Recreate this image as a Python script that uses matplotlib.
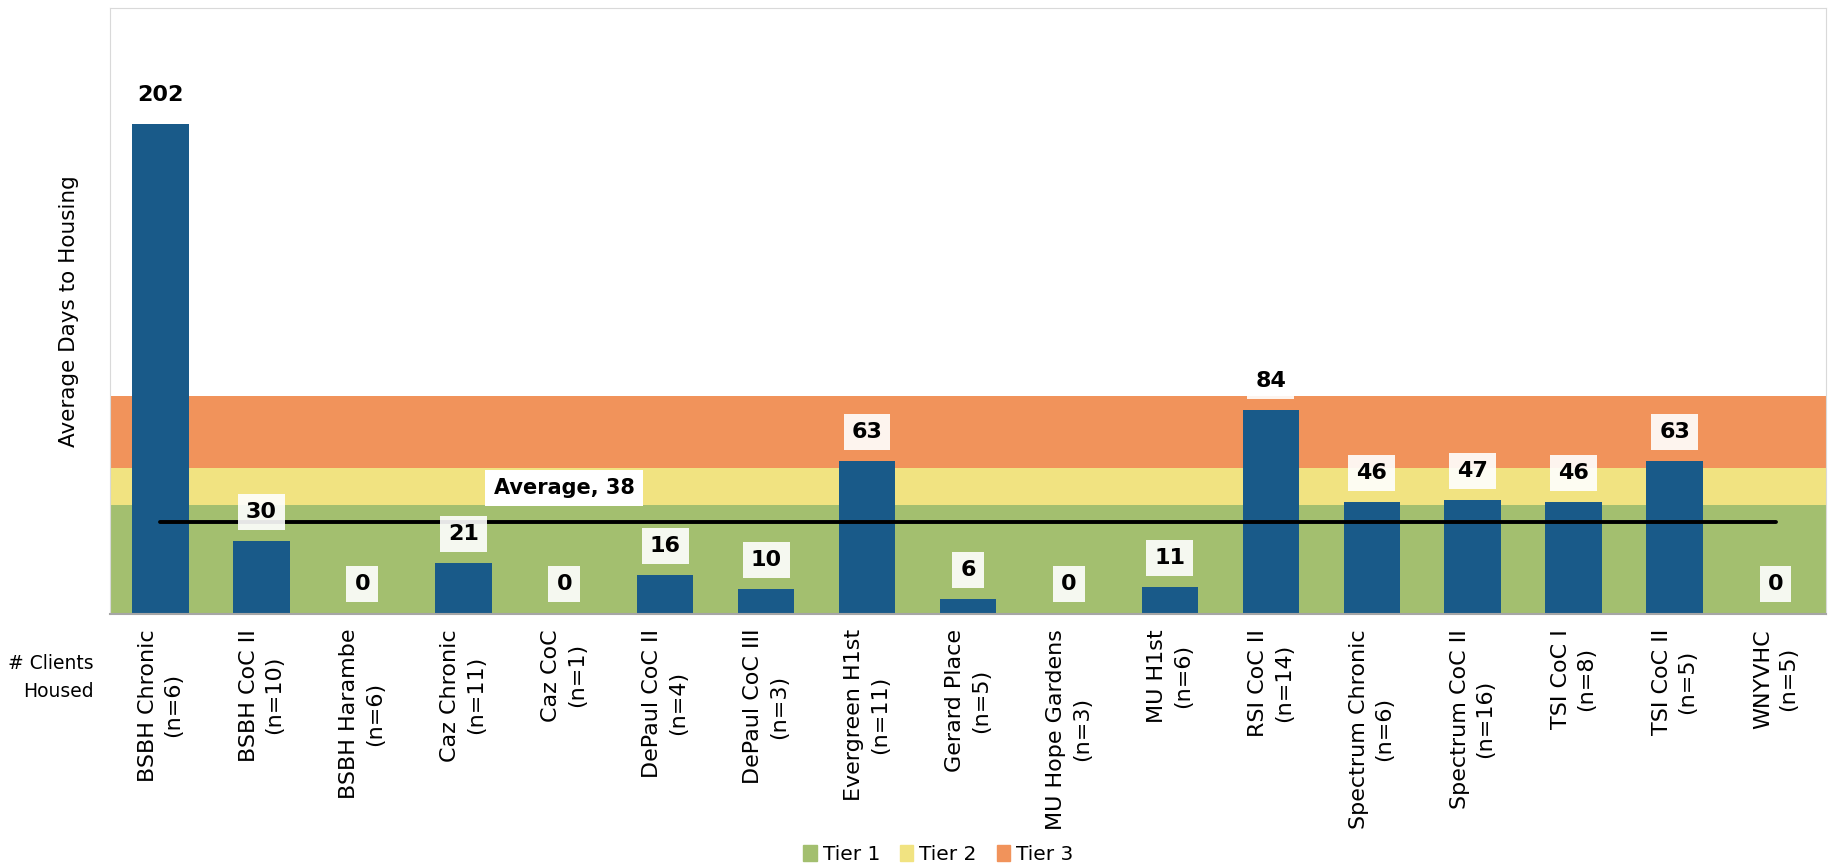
import numpy as np
import matplotlib.pyplot as plt
from matplotlib.patches import Patch

programs = ["BSBH Chronic", "BSBH CoC II", "BSBH Harambe", "Caz Chronic", "Caz CoC",
            "DePaul CoC II", "DePaul CoC III", "Evergreen H1st", "Gerard Place",
            "MU Hope Gardens", "MU H1st", "RSI CoC II", "Spectrum Chronic",
            "Spectrum CoC II", "TSI CoC I", "TSI CoC II", "WNYVHC"]
clients = [6, 10, 6, 11, 1, 4, 3, 11, 5, 3, 6, 14, 6, 16, 8, 5, 5]
days = [202, 30, 0, 21, 0, 16, 10, 63, 6, 0, 11, 84, 46, 47, 46, 63, 0]
average = 38
tier_names = ["Tier 1", "Tier 2", "Tier 3"]
tier_edges = [0, 45, 60, 90]
tier_colors = ["#A3BF6F", "#F1E381", "#F1935B"]
bar_color = "#195A89"

fig = plt.figure(figsize=(18.29, 8.65), dpi=100)
ax = fig.add_axes([0.0601, 0.2906, 0.9383, 0.7002])

x = np.arange(len(programs))

# tier bands behind the bars
for lo, hi, c in zip(tier_edges[:-1], tier_edges[1:], tier_colors):
    ax.axhspan(lo, hi, color=c, zorder=0, lw=0)

ax.bar(x, days, width=0.56, color=bar_color, zorder=2)
ax.plot([x[0], x[-1]], [average, average], color="black", lw=2.8,
        solid_capstyle="round", zorder=3)

for xi, v in zip(x, days):
    ax.annotate(str(v), (xi, v), xytext=(0, 21), textcoords="offset points",
                ha="center", va="center", fontsize=16, fontweight="bold",
                bbox=dict(boxstyle="square,pad=0.36", fc="white", ec="none", alpha=0.9),
                zorder=4)

ax.text(4, 51.8, f"Average, {average}", ha="center", va="center", fontsize=15,
        fontweight="bold", zorder=5,
        bbox=dict(boxstyle="square,pad=0.4", fc="white", ec="none"))

ax.set_xlim(-0.5, len(programs) - 0.5)
ax.set_ylim(0, 250)
ax.set_yticks([])
ax.set_xticks(x)
ax.set_xticklabels([f"{p}\n(n={n})" for p, n in zip(programs, clients)],
                   rotation=90, fontsize=16, ha="center", va="top",
                   multialignment="center", linespacing=1.35)
ax.tick_params(axis="x", length=0, pad=11)

for side in ["left", "top", "right"]:
    ax.spines[side].set_color("#D9D9D9")
ax.spines["bottom"].set_color("#A6A6A6")
ax.spines["bottom"].set_linewidth(1.5)

fig.text(0.0377, 0.640, "Average Days to Housing", rotation=90, ha="center",
         va="center", fontsize=15.5)
fig.text(0.051, 0.217, "# Clients\nHoused", ha="right", va="center",
         fontsize=13.5, multialignment="right", linespacing=1.6)

handles = [Patch(color=c, label=t) for c, t in zip(tier_colors, tier_names)]
fig.legend(handles=handles, loc="center", bbox_to_anchor=(0.513, 0.0127), ncol=3,
           frameon=False, fontsize=14.5, handlelength=0.65, handleheight=0.85,
           handletextpad=0.3, columnspacing=1.0)

fig.savefig("out.png", dpi=100)
